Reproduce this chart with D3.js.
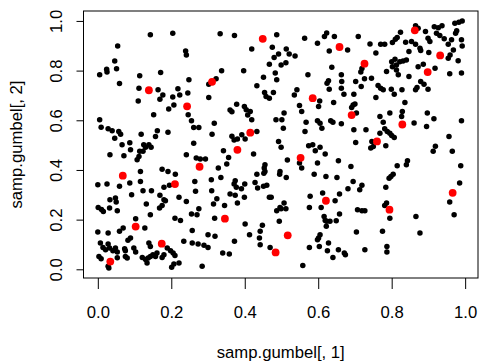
<!DOCTYPE html>
<html>
<head>
<meta charset="utf-8">
<script src="https://cdn.jsdelivr.net/npm/d3@7"></script>
<style>
  html, body { margin: 0; padding: 0; background: #fff; }
  svg { display: block; font-family: "Liberation Sans", Arial, sans-serif; }
</style>
</head>
<body>
<script>
// Sample of the Gumbel copula, [u1, u2]
const samp = [
  [0.143,0.944],[0.204,0.950],[0.054,0.899],[0.239,0.879],[0.241,0.863],[0.046,0.839],[0.024,0.805],[0.025,0.794],[0.051,0.807],[0.005,0.783],
  [0.059,0.748],[0.114,0.779],[0.171,0.792],[0.248,0.763],[0.112,0.729],[0.164,0.723],[0.177,0.702],[0.218,0.727],[0.223,0.702],[0.245,0.710],
  [0.204,0.694],[0.169,0.685],[0.110,0.678],[0.302,0.692],[0.302,0.745],[0.322,0.767],
  [0.333,0.948],[0.372,0.941],[0.487,0.944],[0.563,0.930],[0.623,0.951],[0.617,0.937],[0.644,0.937],[0.598,0.910],[0.630,0.879],[0.419,0.887],
  [0.475,0.894],[0.492,0.867],[0.480,0.853],[0.513,0.887],[0.521,0.867],[0.537,0.859],[0.467,0.826],[0.499,0.823],[0.512,0.832],[0.637,0.814],
  [0.337,0.799],[0.397,0.799],[0.483,0.790],[0.487,0.763],[0.451,0.773],[0.572,0.783],[0.663,0.783],[0.433,0.739],[0.454,0.712],[0.458,0.696],
  [0.467,0.689],[0.478,0.712],[0.542,0.723],[0.535,0.702],[0.628,0.759],[0.624,0.749],[0.630,0.725],[0.664,0.756],[0.663,0.729],[0.604,0.678],
  [0.642,0.672],
  [0.680,0.883],[0.709,0.937],[0.741,0.907],[0.770,0.906],[0.781,0.906],[0.757,0.871],[0.802,0.913],[0.810,0.926],[0.815,0.933],[0.824,0.954],
  [0.838,0.914],[0.854,0.917],[0.865,0.981],[0.872,0.971],[0.847,0.877],[0.865,0.906],[0.877,0.890],[0.879,0.881],[0.892,0.957],[0.899,0.930],
  [0.904,0.917],[0.916,0.977],[0.927,0.973],[0.937,0.981],[0.922,0.950],[0.931,0.941],[0.943,0.928],[0.901,0.873],[0.972,0.991],[0.983,0.995],
  [0.992,1.000],[0.977,0.960],[0.974,0.950],[0.963,0.924],[0.954,0.906],[0.990,0.924],[0.992,0.899],[0.968,0.883],[0.959,0.863],[0.954,0.850],
  [0.981,0.840],[0.990,0.790],[0.958,0.787],[0.918,0.810],[0.719,0.808],[0.716,0.794],[0.745,0.769],[0.702,0.756],[0.726,0.767],[0.717,0.736],
  [0.670,0.705],[0.697,0.705],[0.786,0.796],[0.800,0.836],[0.809,0.846],[0.813,0.823],[0.822,0.836],[0.802,0.816],[0.813,0.802],[0.831,0.839],
  [0.840,0.843],[0.818,0.783],[0.847,0.776],[0.872,0.816],[0.886,0.826],[0.879,0.756],[0.888,0.745],[0.763,0.740],[0.770,0.729],[0.777,0.723],
  [0.799,0.725],[0.807,0.705],[0.828,0.723],[0.865,0.723],[0.869,0.732],[0.899,0.725],[0.757,0.692],[0.836,0.672],
  [0.207,0.662],[0.152,0.622],[0.193,0.645],[0.246,0.622],[0.255,0.598],[0.261,0.571],[0.275,0.571],[0.311,0.544],[0.005,0.602],[0.009,0.572],
  [0.028,0.566],[0.039,0.558],[0.057,0.555],[0.062,0.544],[0.046,0.528],[0.118,0.544],[0.162,0.558],[0.157,0.535],[0.191,0.552],[0.066,0.501],
  [0.087,0.510],[0.089,0.481],[0.125,0.501],[0.130,0.491],[0.139,0.501],[0.145,0.491],[0.114,0.475],[0.123,0.475],[0.112,0.454],[0.107,0.441],
  [0.261,0.508],[0.033,0.461],[0.071,0.457],[0.241,0.461],[0.268,0.448],[0.279,0.444],[0.293,0.444],[0.175,0.403],[0.191,0.394],[0.211,0.383],
  [0.116,0.394],[0.116,0.354],[0.000,0.340],[0.025,0.343],[0.059,0.334],[0.087,0.347],[0.264,0.354],[0.309,0.361],[0.123,0.316],[0.146,0.316],
  [0.180,0.330],[0.195,0.338],[0.266,0.314],
  [0.378,0.665],[0.360,0.641],[0.365,0.634],[0.399,0.655],[0.404,0.642],[0.415,0.635],[0.419,0.602],[0.408,0.621],[0.507,0.629],[0.501,0.602],
  [0.485,0.602],[0.505,0.568],[0.549,0.660],[0.555,0.635],[0.601,0.655],[0.567,0.592],[0.564,0.555],[0.598,0.598],[0.605,0.588],[0.610,0.568],
  [0.634,0.598],[0.640,0.592],[0.317,0.588],[0.365,0.536],[0.371,0.521],[0.380,0.525],[0.392,0.542],[0.401,0.525],[0.433,0.555],[0.492,0.515],
  [0.499,0.491],[0.574,0.497],[0.585,0.501],[0.592,0.477],[0.605,0.491],[0.619,0.464],[0.655,0.437],[0.342,0.477],[0.424,0.464],[0.356,0.450],
  [0.516,0.440],[0.549,0.428],[0.555,0.408],[0.598,0.428],[0.328,0.408],[0.351,0.424],[0.455,0.421],[0.453,0.408],[0.433,0.383],[0.452,0.387],
  [0.455,0.394],[0.496,0.394],[0.495,0.383],[0.513,0.370],[0.589,0.383],[0.621,0.374],[0.651,0.370],[0.335,0.370],[0.374,0.357],[0.371,0.343],
  [0.377,0.330],[0.391,0.324],[0.400,0.343],[0.428,0.350],[0.435,0.327],[0.451,0.334],[0.460,0.338],[0.310,0.316],
  [0.695,0.662],[0.691,0.651],[0.700,0.666],[0.704,0.629],[0.663,0.586],[0.697,0.562],[0.730,0.562],[0.702,0.511],[0.768,0.615],[0.777,0.592],
  [0.795,0.629],[0.781,0.566],[0.788,0.555],[0.795,0.548],[0.800,0.539],[0.807,0.531],[0.768,0.548],[0.829,0.635],[0.827,0.615],[0.861,0.589],
  [0.897,0.629],[0.915,0.606],[0.895,0.575],[0.990,0.598],[0.746,0.515],[0.743,0.488],[0.750,0.494],[0.784,0.497],[0.956,0.535],[0.919,0.495],
  [0.913,0.475],[0.965,0.475],[0.843,0.437],[0.840,0.421],[0.815,0.417],[0.689,0.414],[0.988,0.417],[0.804,0.383],[0.798,0.374],[0.793,0.367],
  [0.695,0.354],[0.681,0.324],[0.719,0.338],[0.713,0.320],[0.784,0.330],[0.985,0.347],
  [0.092,0.300],[0.169,0.298],[0.180,0.280],[0.184,0.276],[0.221,0.290],[0.241,0.273],[0.001,0.249],[0.015,0.233],[0.010,0.241],[0.033,0.280],
  [0.048,0.287],[0.050,0.271],[0.032,0.247],[0.053,0.236],[0.132,0.263],[0.168,0.247],[0.175,0.257],[0.143,0.220],[0.210,0.206],[0.225,0.197],
  [0.255,0.223],[0.275,0.244],[0.270,0.220],[0.103,0.204],[0.128,0.166],[0.000,0.150],[0.028,0.146],[0.059,0.153],[0.069,0.166],[0.082,0.117],
  [0.089,0.126],[0.257,0.156],[0.300,0.139],[0.007,0.106],[0.014,0.088],[0.021,0.079],[0.028,0.102],[0.032,0.086],[0.041,0.075],[0.048,0.086],
  [0.053,0.070],[0.073,0.083],[0.075,0.075],[0.098,0.086],[0.103,0.070],[0.139,0.106],[0.143,0.092],[0.189,0.086],[0.198,0.075],[0.205,0.066],
  [0.210,0.056],[0.234,0.113],[0.257,0.106],[0.273,0.102],[0.289,0.097],[0.300,0.088],[0.003,0.052],[0.009,0.043],[0.028,0.012],[0.030,0.005],
  [0.053,0.047],[0.075,0.052],[0.080,0.046],[0.121,0.048],[0.130,0.039],[0.137,0.046],[0.143,0.052],[0.150,0.059],[0.157,0.052],[0.161,0.066],
  [0.175,0.048],[0.180,0.059],[0.134,0.025],[0.201,0.008],[0.207,0.021],[0.221,0.025],[0.284,0.012],
  [0.360,0.303],[0.374,0.298],[0.399,0.290],[0.324,0.284],[0.315,0.263],[0.345,0.257],[0.380,0.267],[0.467,0.290],[0.472,0.290],[0.507,0.267],
  [0.496,0.249],[0.487,0.236],[0.499,0.244],[0.512,0.244],[0.494,0.193],[0.578,0.294],[0.612,0.307],[0.646,0.276],[0.658,0.303],[0.576,0.249],
  [0.608,0.249],[0.616,0.213],[0.619,0.197],[0.623,0.193],[0.632,0.193],[0.649,0.196],[0.658,0.223],[0.622,0.173],[0.318,0.206],[0.401,0.182],
  [0.448,0.177],[0.413,0.139],[0.442,0.153],[0.440,0.126],[0.442,0.099],[0.319,0.133],[0.372,0.113],[0.605,0.139],[0.601,0.126],[0.598,0.119],
  [0.628,0.106],[0.655,0.079],[0.625,0.075],[0.640,0.048],[0.603,0.092],[0.576,0.088],[0.469,0.088],[0.340,0.066],[0.358,0.062],[0.558,0.015],
  [0.786,0.267],[0.781,0.257],[0.795,0.206],[0.958,0.271],[0.970,0.220],[0.707,0.240],[0.719,0.236],[0.727,0.236],[0.866,0.213],[0.704,0.150],
  [0.775,0.153],[0.877,0.146],[0.671,0.066],[0.674,0.059],[0.727,0.079],[0.787,0.092],[0.787,0.070]
]

// Highlighted points (red)
const markedX = [0.034,0.068,0.103,0.139,0.174,0.210,0.243,0.277,0.311,0.346,0.380,0.415,0.449,0.484,
                 0.517,0.552,0.585,0.621,0.658,0.691,0.726,0.760,0.794,0.829,0.863,0.898,0.932,0.966]
const markedY = [0.031,0.377,0.172,0.721,0.103,0.343,0.656,0.413,0.755,0.204,0.481,0.550,0.928,0.068,
                 0.137,0.449,0.689,0.276,0.895,0.621,0.828,0.515,0.240,0.583,0.962,0.794,0.861,0.308]

// Axes
const ticks = [0, 0.2, 0.4, 0.6, 0.8, 1.0]
const xlabel = "samp.gumbel[, 1]"
const ylabel = "samp.gumbel[, 2]"

// Layout
const width = 481, height = 364
const box = { left: 83.5, right: 478, top: 11, bottom: 278 }
const fontsize = 16.7

const svg = d3.select("body").append("svg")
  .attr("width", width)
  .attr("height", height)

const x = d3.scaleLinear().domain([-0.039, 1.035]).range([box.left, box.right])
const y = d3.scaleLinear().domain([-0.035, 1.04]).range([box.bottom, box.top])

// Plot box
svg.append("rect")
  .attr("x", box.left)
  .attr("y", box.top)
  .attr("width", box.right - box.left)
  .attr("height", box.bottom - box.top)
  .attr("fill", "none")
  .attr("stroke", "#000")
  .attr("stroke-width", 1)

// X axis
svg.append("g")
  .attr("transform", `translate(0,${box.bottom})`)
  .call(d3.axisBottom(x).tickValues(ticks).tickSize(11).tickPadding(17.5).tickFormat(d3.format(".1f")))
  .call(g => g.select(".domain").remove())
  .call(g => g.selectAll(".tick line").attr("stroke", "#000"))
  .selectAll("text")
  .attr("fill", "#000")
  .style("font-size", `${fontsize}px`)
  .style("font-family", "Liberation Sans, Arial, sans-serif")

// Y axis, labels rotated as in R
svg.append("g")
  .attr("transform", `translate(${box.left},0)`)
  .call(d3.axisLeft(y).tickValues(ticks).tickSize(7).tickFormat(d3.format(".1f")))
  .call(g => g.select(".domain").remove())
  .call(g => g.selectAll(".tick line").attr("stroke", "#000"))
  .selectAll("text")
  .attr("transform", "rotate(-90)")
  .attr("x", 0)
  .attr("y", -21.8)
  .attr("dy", null)
  .attr("text-anchor", "middle")
  .attr("fill", "#000")
  .style("font-size", `${fontsize}px`)
  .style("font-family", "Liberation Sans, Arial, sans-serif")

// Axis titles
svg.append("text")
  .attr("x", (box.left + box.right) / 2)
  .attr("y", 357.5)
  .attr("text-anchor", "middle")
  .style("font-size", `${fontsize}px`)
  .text(xlabel)

svg.append("text")
  .attr("transform", `translate(21.5,${(box.top + box.bottom) / 2}) rotate(-90)`)
  .attr("text-anchor", "middle")
  .style("font-size", `${fontsize}px`)
  .text(ylabel)

// Sample points
svg.append("g")
  .selectAll("circle")
  .data(samp)
  .join("circle")
  .attr("cx", d => x(d[0]))
  .attr("cy", d => y(d[1]))
  .attr("r", 2.75)
  .attr("fill", "#000")

// Highlighted points
svg.append("g")
  .selectAll("circle")
  .data(markedX.map((v, i) => [v, markedY[i]]))
  .join("circle")
  .attr("cx", d => x(d[0]))
  .attr("cy", d => y(d[1]))
  .attr("r", 3.9)
  .attr("fill", "#ff0000")
</script>
</body>
</html>
